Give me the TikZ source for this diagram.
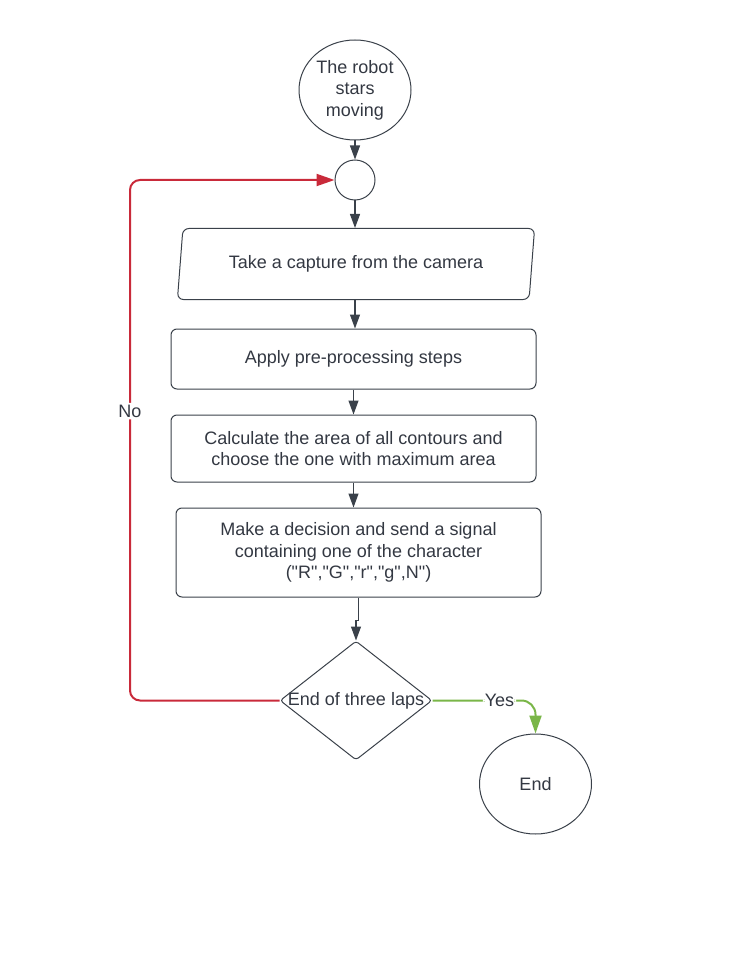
\documentclass[tikz,border=0pt]{standalone}
\usepackage{fontspec}
\setmainfont{Liberation Sans}
\usetikzlibrary{shapes.geometric,arrows.meta}
\definecolor{ink}{HTML}{3A414A}
\definecolor{txt}{HTML}{333842}
\definecolor{lapred}{HTML}{C92A3A}
\definecolor{lapgreen}{HTML}{7AB648}
\newcommand{\qq}{\textquotedbl}

\begin{document}
\begin{tikzpicture}[x=1pt,y=-1pt,
	font=\fontsize{18}{21.5}\selectfont,
	terminal/.style={ellipse,draw=ink,line width=1pt,text=txt,align=center,
		minimum width=112pt,minimum height=100pt,inner sep=0pt},
	merger/.style={circle,draw=ink,line width=1pt,minimum size=40pt,inner sep=0pt},
	process/.style={rectangle,draw=ink,line width=1pt,rounded corners=6pt,text=txt,
		align=center,minimum width=365pt},
	inout/.style={trapezium,trapezium left angle=80,trapezium right angle=100,
		trapezium stretches=true,draw=ink,line width=1pt,rounded corners=6pt,text=txt,
		minimum width=358pt,minimum height=71pt},
	decision/.style={diamond,draw=ink,line width=1pt,rounded corners=3pt,
		minimum width=152pt,minimum height=119pt,inner sep=0pt},
	flow/.style={draw=ink,line width=1.2pt,-{Triangle[width=10pt,length=14pt]}},
	loopback/.style={draw=lapred,line width=2pt,rounded corners=10pt,
		-{Triangle[width=12pt,length=18pt]}},
	finish/.style={draw=lapgreen,line width=2pt,rounded corners=14pt,
		-{Triangle[width=12pt,length=18pt]}}]
	\useasboundingbox (0,0) rectangle (738,957);
	%Start
		\node [terminal] (start) at (355,90) {The robot\\stars\\moving};
		\node [merger] (merge) at (355,180) {};
	%Steps
		\node [inout] (capture) at (356,264) {Take a capture from the camera};
		\node [process,minimum height=60pt] (prep) at (353.5,359) {Apply pre-processing steps};
		\node [process,minimum height=67pt] (area) at (353.5,448.5)
			{Calculate the area of all contours and\\choose the one with maximum area};
		\node [process,minimum height=89pt] (signal) at (358.5,552.5)
			{Make a decision and send a signal\\containing one of the character\\(\qq R\qq,\qq G\qq,\qq r\qq,\qq g\qq,N\qq)};
	%Decision
		\node [decision] (laps) at (356,700.5) {};
		\node [text=txt] (lapstext) at (laps) {End of three laps};
	%End
		\node [terminal] (done) at (535.5,784) {End};
	%Arrows down
		\draw [flow] (start.south) -- (merge.north);
		\draw [flow] (merge.south) -- (merge.south |- capture.north);
		\draw [flow] (capture.south -| merge) -- (merge |- prep.north);
		\draw [flow] (prep.south) -- (area.north);
		\draw [flow] (area.south -| prep) -- (prep |- signal.north);
		\draw [flow] (signal.south) -- ++(0,23) -| (laps.north);
	%No
		\draw [loopback] (laps.west) -- (130,700.5) -- node [pos=0.556,fill=white,text=txt,inner sep=2pt] {No} (130,180) -- (merge.west);
	%Yes
		\draw [finish] (laps.east) -| node [pos=0.325,fill=white,text=txt,inner sep=2pt] {Yes} (done.north);
\end{tikzpicture}
\end{document}
